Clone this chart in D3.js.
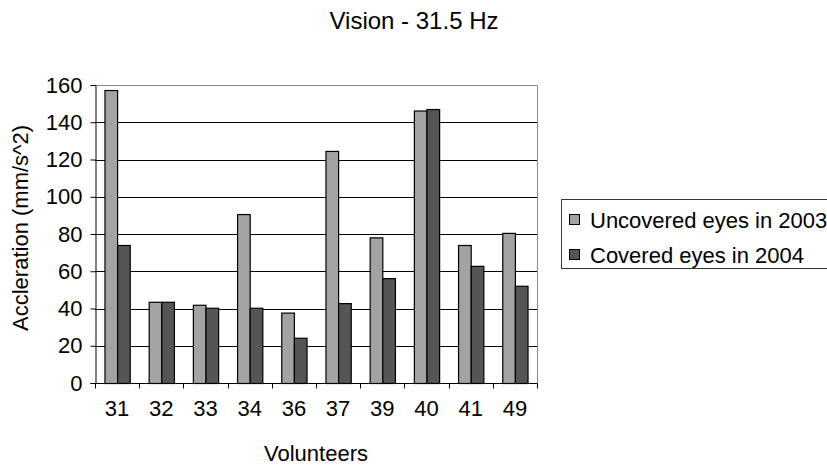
<!DOCTYPE html>
<html>
<head>
<meta charset="utf-8">
<script src="https://cdn.jsdelivr.net/npm/d3@7"></script>
<style>
  html, body { margin: 0; padding: 0; background: #fff; }
  svg { display: block; font-family: "Liberation Sans", Arial, sans-serif; }
</style>
</head>
<body>
<svg id="chart" width="827" height="466"></svg>
<script>
// Volunteer IDs along the x axis
const volunteers = ["31", "32", "33", "34", "36", "37", "39", "40", "41", "49"];
// Acceleration at 31.5 Hz (mm/s^2)
const uncovered2003 = [157.3, 43.6, 42.0, 90.7, 37.8, 124.6, 78.2, 146.3, 74.1, 80.6];
const covered2004   = [74.1, 43.6, 40.4, 40.4, 24.3, 42.9, 56.3, 147.1, 62.9, 52.2];
const seriesNames = ["Uncovered eyes in 2003", "Covered eyes in 2004"];
const seriesColors = ["#a3a3a3", "#555555"];
const yTicks = [0, 20, 40, 60, 80, 100, 120, 140, 160];

const svg = d3.select("#chart");
const plotLeft = 95, plotRight = 537, plotTop = 85, plotBottom = 383;
const fontSize = 22;

const x0 = d3.scaleBand().domain(volunteers).range([plotLeft, plotRight])
  .paddingInner(3 / 7).paddingOuter(1.5 / 7);
const x1 = d3.scaleBand().domain([0, 1]).range([0, x0.bandwidth()]);
const y = d3.scaleLinear().domain([0, 160]).range([plotBottom, plotTop]);

// Title
svg.append("text")
  .attr("x", 414).attr("y", 29)
  .attr("text-anchor", "middle")
  .attr("font-size", 24)
  .attr("fill", "#000")
  .text("Vision - 31.5 Hz");

// Horizontal gridlines
svg.append("g").selectAll("line")
  .data(yTicks.filter(t => t > 0 && t < 160))
  .join("line")
  .attr("x1", plotLeft).attr("x2", plotRight)
  .attr("y1", d => Math.round(y(d)) + 0.5).attr("y2", d => Math.round(y(d)) + 0.5)
  .attr("stroke", "#000").attr("stroke-width", 1);

// Plot area frame (top and right)
svg.append("path")
  .attr("d", `M${plotLeft},${plotTop + 0.5}H${plotRight + 0.5}V${plotBottom}`)
  .attr("fill", "none").attr("stroke", "#888").attr("stroke-width", 1);

// Bars
const rows = volunteers.map((v, i) => ({ v, vals: [uncovered2003[i], covered2004[i]] }));
const groups = svg.append("g").selectAll("g")
  .data(rows).join("g")
  .attr("transform", d => `translate(${x0(d.v)},0)`);
groups.selectAll("rect")
  .data(d => d.vals.map((val, k) => ({ k, val })))
  .join("rect")
  .attr("x", d => x1(d.k) + 0.5)
  .attr("y", d => y(d.val) + 0.5)
  .attr("width", x1.bandwidth())
  .attr("height", d => plotBottom - y(d.val))
  .attr("fill", d => seriesColors[d.k])
  .attr("stroke", "#000").attr("stroke-width", 1.2);

// Y axis
const yAxis = svg.append("g")
  .attr("transform", `translate(${plotLeft + 0.5},0)`)
  .call(d3.axisLeft(y).tickValues(yTicks).tickSize(5).tickPadding(8));
yAxis.select(".domain").attr("stroke", "#000");
yAxis.selectAll(".tick line").attr("stroke", "#000");
yAxis.selectAll("text").attr("font-size", fontSize).attr("fill", "#000")
  .attr("font-family", "Liberation Sans, Arial, sans-serif");

// X axis with ticks at category boundaries
const xAxisG = svg.append("g").attr("transform", `translate(0,${plotBottom + 0.5})`);
xAxisG.append("line").attr("x1", plotLeft).attr("x2", plotRight + 0.5)
  .attr("stroke", "#000");
const step = x0.step();
xAxisG.selectAll("line.tk")
  .data(d3.range(volunteers.length + 1))
  .join("line").attr("class", "tk")
  .attr("x1", i => Math.round(plotLeft + i * step) + 0.5)
  .attr("x2", i => Math.round(plotLeft + i * step) + 0.5)
  .attr("y1", 0).attr("y2", 5)
  .attr("stroke", "#000");
xAxisG.selectAll("text")
  .data(volunteers).join("text")
  .attr("x", d => x0(d) + x0.bandwidth() / 2)
  .attr("y", 32)
  .attr("text-anchor", "middle")
  .attr("font-size", fontSize).attr("fill", "#000")
  .text(d => d);

// Axis titles
svg.append("text")
  .attr("x", (plotLeft + plotRight) / 2).attr("y", 461)
  .attr("text-anchor", "middle")
  .attr("font-size", fontSize).attr("fill", "#000")
  .text("Volunteers");
svg.append("text")
  .attr("transform", `translate(28,228) rotate(-90)`)
  .attr("text-anchor", "middle")
  .attr("font-size", fontSize).attr("fill", "#000")
  .text("Accleration (mm/s^2)");

// Legend
const legend = svg.append("g");
legend.append("rect")
  .attr("x", 561.5).attr("y", 199.5).attr("width", 300).attr("height", 69)
  .attr("fill", "#fff").attr("stroke", "#333").attr("stroke-width", 1);
const items = legend.selectAll("g.item").data(seriesNames).join("g").attr("class", "item")
  .attr("transform", (d, i) => `translate(0,${220 + i * 35})`);
items.append("rect")
  .attr("x", 569.5).attr("y", -5.5).attr("width", 10).attr("height", 10)
  .attr("fill", (d, i) => seriesColors[i]).attr("stroke", "#000");
items.append("text")
  .attr("x", 590).attr("y", 0).attr("dy", "0.35em")
  .attr("font-size", fontSize).attr("fill", "#000")
  .text(d => d);
</script>
</body>
</html>
